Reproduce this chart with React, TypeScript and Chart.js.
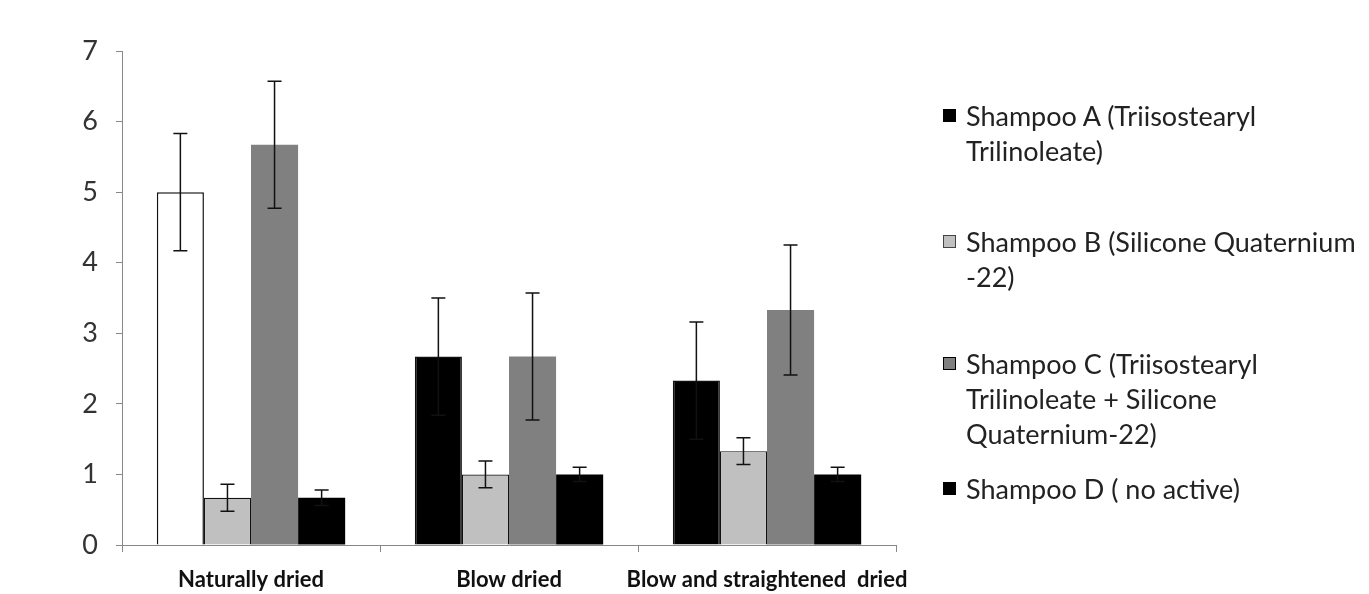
import React, { useEffect, useRef } from "react";
import { Chart, registerables } from "chart.js";

Chart.register(...registerables);

const categories = ["Naturally dried", "Blow dried", "Blow and straightened  dried"];
const seriesNames = [
  "Shampoo A (Triisostearyl Trilinoleate)",
  "Shampoo B (Silicone Quaternium -22)",
  "Shampoo C (Triisostearyl Trilinoleate + Silicone Quaternium-22)",
  "Shampoo D ( no active)",
];
const legendLines = [
  ["Shampoo A (Triisostearyl", "Trilinoleate)"],
  ["Shampoo B (Silicone Quaternium", "-22)"],
  ["Shampoo C (Triisostearyl", "Trilinoleate + Silicone", "Quaternium-22)"],
  ["Shampoo D ( no active)"],
];
const shampooA = [5.0, 2.67, 2.33];
const shampooB = [0.67, 1.0, 1.33];
const shampooC = [5.67, 2.67, 3.33];
const shampooD = [0.67, 1.0, 1.0];
const errA = [0.83, 0.83, 0.83];
const errB = [0.19, 0.19, 0.19];
const errC = [0.9, 0.9, 0.92];
const errD = [0.11, 0.1, 0.1];
const yTicks = [0, 1, 2, 3, 4, 5, 6, 7];

const seriesValues = [shampooA, shampooB, shampooC, shampooD];
const seriesErrors = [errA, errB, errC, errD];
const fills = [["#ffffff", "#000000", "#000000"], "#c0c0c0", "#808080", "#000000"];
const legendFills = ["#000000", "#c0c0c0", "#808080", "#000000"];
const borders = [1.5, 1.2, 0, 0];
const legendTops = [115, 241, 363, 488];

const FONT = "Lato, 'Open Sans', sans-serif";

const errorBarPlugin = {
  id: "errorBars",
  afterDatasetsDraw(chart: any) {
    const ctx = chart.ctx;
    const y = chart.scales.y;
    ctx.save();
    ctx.strokeStyle = "#111";
    ctx.lineWidth = 1.5;
    chart.data.datasets.forEach((ds: any, di: number) => {
      const meta = chart.getDatasetMeta(di);
      meta.data.forEach((bar: any, i: number) => {
        const v = ds.data[i];
        const e = seriesErrors[di][i];
        const yt = y.getPixelForValue(v + e);
        const yb = y.getPixelForValue(v - e);
        const x = bar.x;
        const cap = 7;
        ctx.beginPath();
        ctx.moveTo(x, yt);
        ctx.lineTo(x, yb);
        ctx.moveTo(x - cap, yt);
        ctx.lineTo(x + cap, yt);
        ctx.moveTo(x - cap, yb);
        ctx.lineTo(x + cap, yb);
        ctx.stroke();
      });
    });
    ctx.restore();
  },
};

export default function App() {
  const ref = useRef<HTMLCanvasElement | null>(null);
  useEffect(() => {
    if (!ref.current) return;
    const chart = new Chart(ref.current, {
      type: "bar",
      data: {
        labels: categories,
        datasets: seriesValues.map((vals, i) => ({
          label: seriesNames[i],
          data: vals,
          backgroundColor: fills[i] as any,
          borderColor: "#111",
          borderWidth: borders[i],
          categoryPercentage: 0.73,
          barPercentage: 1.0,
        })),
      },
      options: {
        animation: false,
        responsive: false,
        devicePixelRatio: 1,
        layout: { padding: { left: 0, right: 473, top: 51, bottom: 0 } },
        plugins: { legend: { display: false }, tooltip: { enabled: false } },
        scales: {
          x: {
            grid: {
              display: true,
              drawOnChartArea: false,
              drawTicks: true,
              tickLength: 7,
              color: "#888",
              offset: true,
            },
            border: { display: true, color: "#888", width: 1 },
            ticks: {
              color: "#111",
              padding: 15,
              autoSkip: false,
              maxRotation: 0,
              minRotation: 0,
              font: { family: FONT, size: 22, weight: "bold" },
            },
            afterFit: (s: any) => {
              s.height = 49;
            },
          },
          y: {
            min: 0,
            max: 7,
            afterBuildTicks: (s: any) => {
              s.ticks = yTicks.map((v) => ({ value: v }));
            },
            grid: {
              display: true,
              drawOnChartArea: false,
              drawTicks: true,
              tickLength: 6,
              color: "#888",
            },
            border: { display: true, color: "#888", width: 1 },
            ticks: {
              color: "#333",
              padding: 18,
              font: { family: FONT, size: 27 },
            },
            afterFit: (s: any) => {
              s.width = 122;
            },
          },
        },
      },
      plugins: [errorBarPlugin],
    });
    return () => chart.destroy();
  }, []);

  return (
    <div style={{ position: "fixed", left: 0, top: 0, width: 1369, height: 594, background: "#fff" }}>
      <canvas ref={ref} width={1369} height={594} style={{ display: "block", width: 1369, height: 594 }} />
      {legendLines.map((lines, i) => (
        <div key={i} style={{ position: "absolute", left: 943, top: legendTops[i] - 17.5 }}>
          <div
            style={{
              position: "absolute",
              left: 0,
              top: 11,
              width: 13,
              height: 13,
              background: legendFills[i],
              border: i === 1 ? "1px solid #444" : "1px solid #000",
              boxSizing: "border-box",
            }}
          />
          <div
            style={{
              position: "absolute",
              left: 23,
              top: 0,
              whiteSpace: "nowrap",
              fontFamily: FONT,
              fontSize: 27,
              lineHeight: "35px",
              color: "#222",
            }}
          >
            {lines.map((l, j) => (
              <div key={j}>{l}</div>
            ))}
          </div>
        </div>
      ))}
    </div>
  );
}
